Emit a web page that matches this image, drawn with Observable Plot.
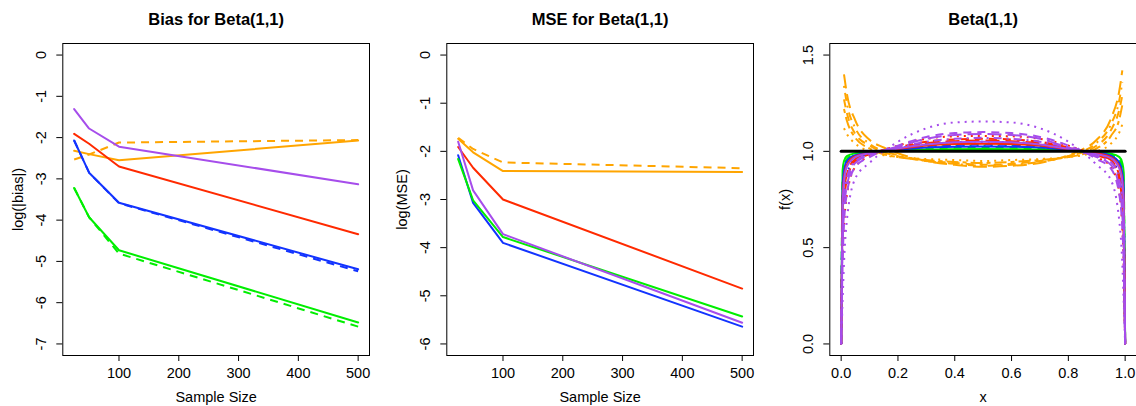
<!DOCTYPE html>
<html><head><meta charset="utf-8">
<script src="https://cdn.jsdelivr.net/npm/d3@7"></script>
<script src="https://cdn.jsdelivr.net/npm/@observablehq/plot@0.6"></script>
<style>
html,body{margin:0;padding:0;background:#fff;}
#wrap{position:relative;width:1136px;height:406px;overflow:hidden;background:#fff;}
#wrap svg{position:absolute;top:0;}
</style></head><body><div id="wrap"></div>
<script>
// ---------- data: panel 1 & 2 ----------
const sampleSize = [25, 50, 100, 500];
const sampleTicks = [100, 200, 300, 400, 500];

const biasOrange       = [-2.32, -2.40, -2.55, -2.07];
const biasOrangeDashed = [-2.53, -2.41, -2.12, -2.06];
const biasPurple       = [-1.31, -1.78, -2.22, -3.13];
const biasRed          = [-1.91, -2.15, -2.70, -4.34];
const biasBlue         = [-2.07, -2.85, -3.58, -5.19];
const biasBlueDashed   = [-2.07, -2.85, -3.59, -5.24];
const biasGreen        = [-3.22, -3.93, -4.73, -6.48];
const biasGreenDashed  = [-3.22, -3.93, -4.81, -6.58];
const biasTicks = [0, -1, -2, -3, -4, -5, -6, -7];

const mseOrange        = [-1.74, -2.02, -2.41, -2.43];
const mseOrangeDashed  = [-1.72, -1.95, -2.23, -2.35];
const mseRed           = [-1.91, -2.34, -3.00, -4.85];
const msePurple        = [-1.80, -2.81, -3.72, -5.56];
const mseGreen         = [-2.16, -3.02, -3.78, -5.43];
const mseBlue          = [-2.08, -3.07, -3.90, -5.64];
const mseTicks = [0, -1, -2, -3, -4, -5, -6];

// ---------- data: panel 3 (density estimates) ----------
const densX = [0, 0.005, 0.01, 0.02, 0.05, 0.1, 0.2, 0.3, 0.4, 0.5, 0.6, 0.7, 0.8, 0.9, 0.95, 0.98, 0.99, 0.995, 1];
const purpleDotted   = [0, 0.22, 0.42, 0.64, 0.86, 0.94, 1.05, 1.12, 1.15, 1.155, 1.15, 1.12, 1.05, 0.93, 0.85, 0.63, 0.42, 0.22, 0];
const purpleDashed   = [0, 0.42, 0.62, 0.78, 0.92, 0.97, 1.03, 1.075, 1.095, 1.10, 1.095, 1.075, 1.03, 0.96, 0.91, 0.77, 0.60, 0.42, 0];
const purpleLongdash = [0, 0.50, 0.68, 0.82, 0.94, 0.98, 1.025, 1.065, 1.085, 1.09, 1.085, 1.065, 1.02, 0.97, 0.93, 0.81, 0.67, 0.50, 0];
const purpleDotdash  = [0, 0.58, 0.74, 0.86, 0.95, 0.985, 1.02, 1.05, 1.065, 1.07, 1.065, 1.05, 1.02, 0.975, 0.945, 0.85, 0.73, 0.58, 0];
const purpleSolid    = [0, 0.72, 0.84, 0.92, 0.97, 0.99, 1.015, 1.035, 1.047, 1.05, 1.047, 1.035, 1.012, 0.985, 0.965, 0.91, 0.84, 0.72, 0];
const redDotted      = [0, 0.40, 0.60, 0.77, 0.92, 0.975, 1.03, 1.065, 1.078, 1.08, 1.078, 1.065, 1.03, 0.97, 0.92, 0.78, 0.60, 0.40, 0];
const redDashed      = [0, 0.55, 0.72, 0.85, 0.95, 0.985, 1.02, 1.05, 1.062, 1.065, 1.062, 1.05, 1.02, 0.98, 0.95, 0.85, 0.71, 0.55, 0];
const redLongdash    = [0, 0.62, 0.78, 0.88, 0.96, 0.988, 1.016, 1.042, 1.053, 1.056, 1.053, 1.042, 1.016, 0.984, 0.955, 0.87, 0.77, 0.62, 0];
const redSolid       = [0, 0.75, 0.86, 0.93, 0.975, 0.99, 1.012, 1.03, 1.038, 1.04, 1.038, 1.03, 1.01, 0.99, 0.97, 0.92, 0.85, 0.74, 0];
const blueDotted     = [0, 0.60, 0.76, 0.88, 0.96, 0.985, 1.015, 1.038, 1.048, 1.05, 1.048, 1.038, 1.015, 0.985, 0.955, 0.87, 0.75, 0.60, 0];
const blueDashed     = [0, 0.75, 0.86, 0.93, 0.975, 0.99, 1.01, 1.027, 1.033, 1.035, 1.033, 1.027, 1.01, 0.99, 0.97, 0.92, 0.85, 0.74, 0];
const blueSolid      = [0, 0.82, 0.90, 0.95, 0.98, 0.993, 1.008, 1.02, 1.024, 1.025, 1.024, 1.02, 1.008, 0.993, 0.978, 0.94, 0.89, 0.81, 0];
const greenDotted    = [0, 0.78, 0.88, 0.94, 0.98, 0.992, 1.008, 1.022, 1.028, 1.03, 1.028, 1.022, 1.008, 0.99, 0.975, 0.935, 0.87, 0.77, 0];
const greenDashed    = [0, 0.85, 0.92, 0.96, 0.985, 0.995, 1.005, 1.015, 1.019, 1.02, 1.019, 1.015, 1.005, 0.993, 0.982, 0.955, 0.91, 0.84, 0];
const greenSolid     = [0, 0.90, 0.95, 0.975, 0.99, 0.997, 1.003, 1.009, 1.011, 1.012, 1.011, 1.009, 1.003, 0.996, 0.988, 0.97, 0.94, 0.89, 0];

const orangeX = [0.01, 0.02, 0.05, 0.1, 0.15, 0.2, 0.3, 0.4, 0.5, 0.6, 0.7, 0.8, 0.85, 0.9, 0.95, 0.98, 0.99];
const orangeLongdash = [1.40, 1.30, 1.16, 1.06, 1.02, 0.99, 0.95, 0.93, 0.92, 0.925, 0.94, 0.98, 1.01, 1.06, 1.17, 1.32, 1.42];
const orangeDotdash  = [1.34, 1.25, 1.12, 1.04, 1.0, 0.98, 0.95, 0.935, 0.925, 0.93, 0.945, 0.975, 1.0, 1.045, 1.14, 1.27, 1.36];
const orangeDashed   = [1.27, 1.20, 1.09, 1.03, 0.995, 0.975, 0.95, 0.94, 0.93, 0.935, 0.95, 0.975, 0.995, 1.03, 1.11, 1.22, 1.29];
const orangeTwodash  = [1.22, 1.16, 1.07, 1.015, 0.985, 0.97, 0.955, 0.945, 0.94, 0.945, 0.955, 0.97, 0.985, 1.015, 1.08, 1.17, 1.24];
const orangeDotted   = [1.12, 1.09, 1.04, 1.0, 0.98, 0.97, 0.96, 0.955, 0.95, 0.955, 0.96, 0.97, 0.98, 1.0, 1.04, 1.10, 1.14];

const trueX = [0, 1];
const trueDensity = [1, 1];
const densXTicks = [0, 0.2, 0.4, 0.6, 0.8, 1.0];
const densYTicks = [0, 0.5, 1.0, 1.5];

// ---------- styles ----------
const C = {orange: "#FFA500", red: "#FF2A00", blue: "#1233FF", green: "#00EE00", purple: "#A64DEB"};
const DASH = {solid: null, dashed: "8,6", dotted: "2,5", dotdash: "2,5,8,5", longdash: "14,6", twodash: "4,4,12,4"};
const FONT = "'Liberation Sans', Arial, Helvetica, sans-serif";

function rows(xs, ys) { return xs.map((x, i) => ({x, y: ys[i]})); }

function lineMark(xs, ys, color, dash, width = 2, curve = "linear") {
  return Plot.line(rows(xs, ys), {
    x: "x", y: "y", stroke: color, strokeWidth: width,
    strokeDasharray: DASH[dash] || undefined,
    strokeLinecap: dash === "solid" ? "round" : "butt",
    strokeLinejoin: "round", curve
  });
}

function panel({left, xDomain, yDomain, xTicks, yTicks, fmtX, fmtY, title, xLabel, yLabel, marks}) {
  const svg = Plot.plot({
    width: 379, height: 406,
    marginLeft: 62.3, marginRight: 10, marginTop: 43, marginBottom: 51,
    x: {domain: xDomain},
    y: {domain: yDomain},
    style: {fontFamily: FONT, fontSize: "14.5px", color: "black", background: "transparent", overflow: "visible"},
    marks: [
      ...marks,
      Plot.frame({stroke: "black", strokeWidth: 1}),
      Plot.axisX(xTicks, {tickSize: 6, tickFormat: () => "", label: null, stroke: "black"}),
      Plot.axisY(yTicks, {tickSize: 6, tickFormat: () => "", label: null, stroke: "black"}),
      Plot.text(xTicks, {x: d => d, text: fmtX, frameAnchor: "bottom", dy: 18, lineAnchor: "middle", fill: "black"}),
      Plot.text(yTicks, {y: d => d, text: fmtY, frameAnchor: "left", dx: -21, rotate: -90, textAnchor: "middle", lineAnchor: "middle", fill: "black"}),
      Plot.text([title], {text: d => d, frameAnchor: "top", dy: -24, lineAnchor: "middle", fontWeight: "bold", fontSize: 16.5, fill: "black"}),
      Plot.text([xLabel], {text: d => d, frameAnchor: "bottom", dy: 42, lineAnchor: "middle", fill: "black"}),
      Plot.text([yLabel], {text: d => d, frameAnchor: "left", dx: -44, rotate: -90, textAnchor: "middle", lineAnchor: "middle", fill: "black"})
    ]
  });
  svg.style.left = left + "px";
  document.getElementById("wrap").appendChild(svg);
}

// Panel 1: Bias
panel({
  left: 0, xDomain: [6, 519], yDomain: [-7.28, 0.28],
  xTicks: sampleTicks, yTicks: biasTicks,
  fmtX: d => String(d), fmtY: d => String(d),
  title: "Bias for Beta(1,1)", xLabel: "Sample Size", yLabel: "log(|bias|)",
  marks: [
    lineMark(sampleSize, biasOrange, C.orange, "solid"),
    lineMark(sampleSize, biasOrangeDashed, C.orange, "dashed"),
    lineMark(sampleSize, biasGreen, C.green, "solid"),
    lineMark(sampleSize, biasGreenDashed, C.green, "dashed"),
    lineMark(sampleSize, biasBlue, C.blue, "solid"),
    lineMark(sampleSize, biasBlueDashed, C.blue, "dashed"),
    lineMark(sampleSize, biasRed, C.red, "solid"),
    lineMark(sampleSize, biasPurple, C.purple, "solid")
  ]
});

// Panel 2: MSE
panel({
  left: 384, xDomain: [6, 519], yDomain: [-6.24, 0.24],
  xTicks: sampleTicks, yTicks: mseTicks,
  fmtX: d => String(d), fmtY: d => String(d),
  title: "MSE for Beta(1,1)", xLabel: "Sample Size", yLabel: "log(MSE)",
  marks: [
    lineMark(sampleSize, mseOrange, C.orange, "solid"),
    lineMark(sampleSize, mseOrangeDashed, C.orange, "dashed"),
    lineMark(sampleSize, mseRed, C.red, "solid"),
    lineMark(sampleSize, mseBlue, C.blue, "solid"),
    lineMark(sampleSize, mseGreen, C.green, "solid"),
    lineMark(sampleSize, msePurple, C.purple, "solid")
  ]
});

// Panel 3: densities
const mc = "monotone-x";
panel({
  left: 767, xDomain: [-0.04, 1.04], yDomain: [-0.06, 1.56],
  xTicks: densXTicks, yTicks: densYTicks,
  fmtX: d => d.toFixed(1), fmtY: d => d.toFixed(1),
  title: "Beta(1,1)", xLabel: "x", yLabel: "f(x)",
  marks: [
    lineMark(orangeX, orangeLongdash, C.orange, "longdash", 2, mc),
    lineMark(orangeX, orangeDotdash, C.orange, "dotdash", 2, mc),
    lineMark(orangeX, orangeDashed, C.orange, "dashed", 2, mc),
    lineMark(orangeX, orangeTwodash, C.orange, "twodash", 2, mc),
    lineMark(orangeX, orangeDotted, C.orange, "dotted", 2, mc),
    lineMark(densX, greenSolid, C.green, "solid", 2, mc),
    lineMark(densX, greenDashed, C.green, "dashed", 2, mc),
    lineMark(densX, greenDotted, C.green, "dotted", 2, mc),
    lineMark(densX, blueSolid, C.blue, "solid", 2, mc),
    lineMark(densX, blueDashed, C.blue, "dashed", 2, mc),
    lineMark(densX, blueDotted, C.blue, "dotted", 2, mc),
    lineMark(densX, redSolid, C.red, "solid", 2, mc),
    lineMark(densX, redLongdash, C.red, "longdash", 2, mc),
    lineMark(densX, redDashed, C.red, "dashed", 2, mc),
    lineMark(densX, redDotted, C.red, "dotted", 2, mc),
    lineMark(densX, purpleSolid, C.purple, "solid", 2, mc),
    lineMark(densX, purpleDotdash, C.purple, "dotdash", 2, mc),
    lineMark(densX, purpleLongdash, C.purple, "longdash", 2, mc),
    lineMark(densX, purpleDashed, C.purple, "dashed", 2, mc),
    lineMark(densX, purpleDotted, C.purple, "dotted", 2, mc),
    lineMark(trueX, trueDensity, "black", "solid", 3)
  ]
});
</script></body></html>
